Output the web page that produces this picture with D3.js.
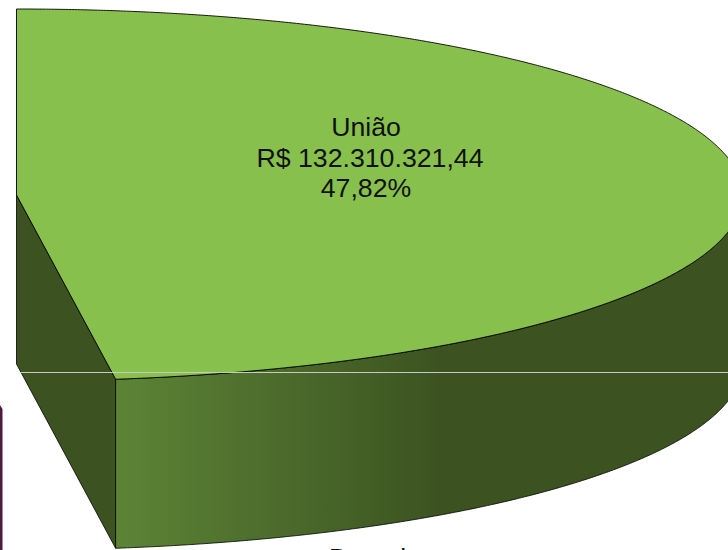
<!DOCTYPE html>
<html>
<head>
<meta charset="utf-8">
<script src="https://cdn.jsdelivr.net/npm/d3@7"></script>
<style>
    body { margin: 0; background: #fff; overflow: hidden; }
    text { font-family: "Liberation Sans", Arial, sans-serif; }
</style>
</head>
<body>
<div id="chart"></div>
<script>
// chart values
const categories = ["União", "Demais"];
const percents = [47.82, 52.18];
const amountLabels = ["R$ 132.310.321,44"];
const percentLabels = ["47,82%"];

const width = 728, height = 550;

const svg = d3.select("#chart")
    .append("svg")
    .attr("width", width)
    .attr("height", height)
    .style("display", "block");

const cx = 16.5, cy = 195, rx = 726, ry = 186, depth = 169;

const slices = d3.pie().sort(null)(percents);
const uniao = slices[0];

// point on the ellipse rim, angle clockwise from 12 o'clock
let rim = (a, dy = 0) => [cx + rx * Math.sin(a), cy - ry * Math.cos(a) + dy];

let angles = d3.range(uniao.startAngle, uniao.endAngle, 0.004).concat([uniao.endAngle]);
let line = d3.line();
let endPt = rim(uniao.endAngle);

// gradient for the outer wall
let defs = svg.append("defs");
let grad = defs.append("linearGradient")
    .attr("id", "wall")
    .attr("gradientUnits", "userSpaceOnUse")
    .attr("x1", endPt[0]).attr("x2", 440)
    .attr("y1", 0).attr("y2", 0);
grad.append("stop").attr("offset", "0%").attr("stop-color", "#5c8436");
grad.append("stop").attr("offset", "100%").attr("stop-color", "#3c5321");

// piece of the next slice, only its edge shows at the left border
svg.append("path")
    .attr("d", line([[0, 405], [2.5, 409], [2.5, height], [0, height]]))
    .attr("fill", "#4f1a3f");

// inner wall
svg.append("path")
    .attr("d", line([[cx, cy], endPt, [endPt[0], endPt[1] + depth], [cx, cy + depth]]) + "Z")
    .attr("fill", "#3c5321")
    .attr("stroke", "#000")
    .attr("stroke-width", 0.8);

// outer wall
let front = angles.filter(a => a >= Math.PI / 2);
let wallPts = front.map(a => rim(a)).concat(front.slice().reverse().map(a => rim(a, depth)));
svg.append("path")
    .attr("d", line(wallPts) + "Z")
    .attr("fill", "url(#wall)")
    .attr("stroke", "#000")
    .attr("stroke-width", 0.8);

// top face
let topFace = [[cx, cy]].concat(angles.map(a => rim(a)));
svg.append("path")
    .attr("d", line(topFace) + "Z")
    .attr("fill", "#88c04d")
    .attr("stroke", "#000")
    .attr("stroke-width", 0.9);

// thin light line across the chart
svg.append("line")
    .attr("x1", cx + 3).attr("x2", width)
    .attr("y1", 372.5).attr("y2", 372.5)
    .attr("stroke", "#c6cbbe")
    .attr("stroke-width", 1);

// labels
let labelLines = [categories[0], amountLabels[0], percentLabels[0]];
let labelX = [366, 370, 366];
svg.append("g")
    .selectAll("text")
    .data(labelLines)
    .join("text")
    .attr("x", (d, i) => labelX[i])
    .attr("y", (d, i) => 136 + i * 30.5)
    .attr("text-anchor", "middle")
    .attr("font-size", "26.7px")
    .attr("fill", "#111")
    .text(d => d);

// label of the next slice, cut by the bottom of the picture
svg.append("text")
    .attr("x", 329)
    .attr("y", 567.4)
    .attr("font-size", "26.7px")
    .attr("fill", "#111")
    .text(categories[1]);
</script>
</body>
</html>
